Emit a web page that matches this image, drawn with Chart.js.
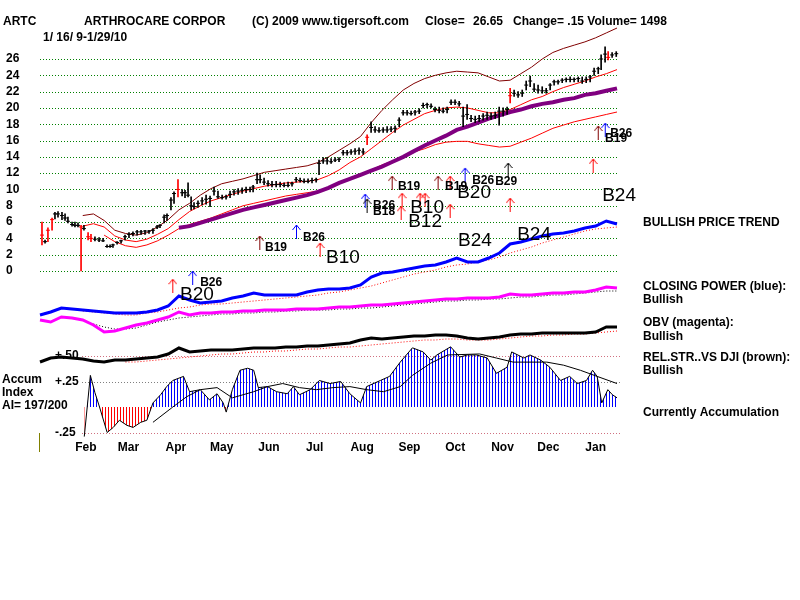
<!DOCTYPE html>
<html lang="en">
<head>
<meta charset="UTF-8">
<title>ARTC - TigerSoft</title>
<script src="https://cdn.jsdelivr.net/npm/chart.js@4"></script>
<style>
  html, body { margin: 0; padding: 0; background: #fff; }
  canvas { display: block; }
</style>
</head>
<body>
<canvas id="chart" width="800" height="600"></canvas>
<script>
/* ---------- data ---------- */
// price bars, x in days since 1/16/09
const barDays = [1.3,3.3,5.2,7.9,9.8,11.8,14.4,16.4,18.3,21,22.9,24.9,26.9,28.8,31.5,33.4,36,38.7,41.3,43.9,45.9,47.8,50.5,53.1,55.7,58.3,60.9,63.6,66.2,68.8,71.4,74,76.7,78.6,81.3,83.2,85.8,87.8,90.4,93.1,95,97,99,100.9,103.5,106.2,108.8,111.4,114,116.6,119.3,121.9,124.5,127.1,129.8,132.4,135,137.6,139.6,142.2,144.2,146.8,149.4,152,154.7,157.3,159.9,162.5,165.1,167.8,170.4,173,175.6,178.2,180.9,182.8,185.5,188.1,190.7,193.3,195.9,198.6,201.2,203.8,206.4,209,211.7,214.3,216.9,219.5,222.1,224.8,227.4,230,232.6,235.3,237.9,240.5,243.1,245.7,248.4,251,253.6,256.2,258.8,261.5,264.1,266.7,269.3,271.9,274.6,277.2,279.8,282.4,285.1,287.7,290.3,292.9,295.5,298.2,300.8,303.4,306,308,310.6,313.2,315.9,318.5,321.1,323.7,326.3,329,331.6,334.2,336.8,339.4,342.1,344.7,347.3,349.9,352.6,355.2,357.8,360.4,363,365.7,367.6,370.2,372.2,374.8,377.5];
const priceHigh = [6.0,3.8,5.3,6.5,7.2,7.3,7.2,7.0,6.6,6.0, 6.0,5.9,5.6,5.6,4.7,4.5,4.2,4.1,4.0,3.2, 3.2,3.3,3.6,3.8,4.4,4.7,4.8,5.0,5.0,5.0, 5.0,5.2,5.6,5.7,6.9,7.0,9.0,9.7,11.2,10.0, 9.9,10.8,9.1,8.4,8.6,9.0,9.3,9.2,10.3,9.8, 9.3,9.3,9.8,10.0,10.1,10.2,10.3,10.3,10.5,12.0, 11.8,11.4,11.1,11.0,11.0,10.9,10.8,10.9,10.9,11.5, 11.4,11.3,11.3,11.4,11.4,13.6,13.9,13.9,13.8,13.9, 13.9,14.8,14.8,14.9,15.0,15.1,15.0,16.7,18.3,17.7, 17.6,17.6,17.7,17.7,17.8,18.8,19.7,19.7,19.6,19.7, 19.9,20.6,20.6,20.5,20.1,20.1,20.0,20.1,21.0,21.0, 20.8,20.1,20.4,19.1,19.0,19.1,19.3,19.5,19.4,19.5, 20.1,20.0,20.1,22.4,22.2,22.0,22.2,23.3,23.9,23.0, 22.8,22.6,22.4,23.0,23.4,23.4,23.6,23.7,23.8,23.7, 23.8,23.8,23.8,24.0,24.9,25.0,26.5,27.5,26.9,26.8, 26.9];
const priceLow  = [3.2,3.4,3.6,5.0,6.4,6.6,6.3,6.2,5.9,5.5, 5.4,5.4,0.0,5.0,3.8,3.6,3.7,3.6,3.6,2.9, 2.9,2.9,3.3,3.4,3.8,4.1,4.3,4.4,4.5,4.5, 4.6,4.6,5.2,5.3,5.9,6.2,7.5,8.3,9.1,9.2, 9.0,9.1,7.5,7.6,7.8,8.1,8.2,7.9,9.3,8.9, 8.8,8.8,9.0,9.3,9.4,9.5,9.6,9.7,9.7,10.7, 10.8,10.6,10.4,10.3,10.3,10.3,10.3,10.3,10.4,10.9, 10.9,10.8,10.8,10.8,10.9,11.8,13.2,13.1,13.2,13.4, 13.4,14.2,14.2,14.3,14.3,14.3,14.3,15.5,17.0,17.0, 17.0,17.0,17.0,17.1,17.0,17.7,19.1,19.1,19.1,19.1, 19.3,20.0,20.0,20.0,19.5,19.4,19.4,19.4,20.4,20.4, 20.2,17.7,18.6,18.3,18.2,18.3,18.5,18.6,18.6,18.7, 17.9,19.0,19.2,20.6,21.4,21.3,21.4,22.2,22.6,22.0, 21.8,21.8,21.8,22.2,22.8,22.9,23.1,23.2,23.2,23.2, 23.2,23.0,23.1,23.2,24.0,24.2,24.7,25.6,25.9,26.2, 26.3];
const priceClose = [4.4,3.6,5.0,6.3,7.0,7.0,6.8,6.5,6.1,5.7, 5.6,5.6,5.4,5.2,4.2,4.0,3.9,3.8,3.7,3.0, 3.0,3.2,3.5,3.7,4.2,4.5,4.6,4.8,4.8,4.9, 4.9,5.0,5.4,5.6,6.6,6.8,8.7,9.5,10.0,9.6, 9.6,9.3,8.0,7.9,8.3,8.6,8.8,8.9,9.8,9.1, 9.0,9.1,9.4,9.7,9.8,9.9,10.0,10.0,10.3,11.2, 11.2,10.9,10.7,10.6,10.6,10.6,10.5,10.5,10.7,11.2, 11.1,11.0,11.0,11.1,11.2,13.2,13.5,13.5,13.4,13.6, 13.7,14.5,14.5,14.6,14.7,14.8,14.6,16.4,17.6,17.3, 17.2,17.3,17.3,17.4,17.5,18.5,19.4,19.4,19.3,19.5, 19.6,20.3,20.4,20.2,19.8,19.7,19.6,19.8,20.7,20.7, 20.5,19.0,19.2,18.7,18.6,18.7,19.0,19.1,19.0,19.1, 19.6,19.6,19.8,21.5,21.8,21.6,21.8,22.8,23.3,22.3, 22.2,22.1,22.1,22.8,23.2,23.2,23.4,23.5,23.5,23.5, 23.6,23.3,23.5,23.8,24.5,24.8,26.0,26.6,26.2,26.5, 26.65];
const redBarDays = [1.3,5.2,7.9,26.9,31.5,33.4,90.4,214.3,308,372.2];

// weekly indicator samples
const weekDays = [0,7,14,21,28,35,42,49,56,63,70,77,84,91,98,105,112,119,126,133,140,147,154,161,168,175,182,189,196,203,210,217,224,231,238,245,252,259,266,273,280,287,294,301,308,315,322,329,336,343,350,357,364,371,378];
const upperBand = [null,null,null,null,6.8,7.0,6.2,5.0,4.6,4.4,4.7,5.4,6.3,7.5,8.3,9.3,10.1,10.7,11.0,11.3,11.7,12.1,12.3,12.5,12.7,12.9,13.3,14.0,14.8,15.6,16.5,18.2,19.7,21.0,22.2,23.0,23.6,24.0,24.3,24.5,24.4,24.3,23.8,23.3,23.4,24.2,25.0,26.0,26.8,27.3,27.7,28.1,28.6,29.2,29.8];
const midBand   = [null,null,null,null,5.5,5.8,5.4,4.3,3.8,3.6,3.9,4.5,5.2,6.3,7.3,8.0,8.6,9.0,9.4,9.8,10.1,10.4,10.6,10.8,10.9,11.0,11.2,11.7,12.4,13.3,14.0,15.0,16.0,17.0,17.9,18.6,19.3,19.7,20.0,20.1,20.0,19.7,19.4,19.4,19.8,20.4,21.0,21.4,22.0,22.5,22.9,23.3,23.8,24.2,24.7];
const lowerBand = [null,null,null,null,null,null,4.4,3.6,3.1,2.9,3.2,3.7,4.4,5.2,5.7,6.1,6.5,7.0,7.5,8.0,8.3,8.6,8.9,9.2,9.4,9.6,9.8,10.2,10.8,11.4,11.9,12.4,13.0,13.5,14.1,14.6,15.0,15.5,15.8,15.9,15.9,15.6,15.4,15.2,15.3,15.8,16.3,16.9,17.5,17.9,18.3,18.6,18.9,19.2,19.5];
const longMA    = [null,null,null,null,null,null,null,null,null,null,null,null,null,5.3,5.5,5.9,6.3,6.7,7.1,7.5,7.8,8.1,8.4,8.7,9.0,9.3,9.7,10.2,10.8,11.3,11.8,12.3,12.8,13.4,14.0,14.7,15.4,16.0,16.6,17.3,17.7,18.2,18.7,19.1,19.5,19.8,20.2,20.5,20.7,21.0,21.2,21.6,21.8,22.1,22.4];

const closingPower   = [5,8,12,11,10,9,8,7,7,7,8,10,14,24,20,17,18,19,22,24,27,25,25,25,25,28,30,31,31,32,35,43,47,48,50,52,54,55,58,62,58,58,62,67,76,78,81,84,86,87,89,92,94,99,96];
const closingPowerMA = [null,null,null,null,9,8,7,6,5,5,7,8,10,12,13,15,16,16,17,18,19,20,21,22,23,24,25,27,28,30,32,34,37,40,43,46,48,50,53,55,56,58,60,63,67,70,73,77,80,83,86,89,91,92,93];
const obv            = [20,18,23,22,20,15,8,9,12,15,17,20,23,28,25,27,27,28,28,29,29,30,30,30,31,31,31,32,33,33,34,35,35,36,37,38,39,40,41,41,42,42,42,43,46,45,45,46,47,47,48,48,50,53,52];
const obvMA          = [null,null,null,null,null,16,13,11,11,12,15,18,20,22,23,24,25,26,26,27,27,28,28,29,29,30,30,30,31,31,32,32,33,34,35,36,37,38,39,39,40,40,41,41,42,43,43,44,45,45,46,47,48,49,49];
const relStr         = [8,12,13,12,11,9,8,10,10,11,12,13,16,22,18,19,20,20,20,21,22,22,22,23,23,24,24,25,26,27,30,32,31,32,33,34,34,35,35,34,32,31,32,33,35,36,36,37,37,37,37,37,38,43,43];
const relStrMA       = [null,null,null,null,null,null,null,null,8,8,9,10,11,12,13,14,15,16,16,17,18,18,19,19,20,21,21,22,23,23,24,25,26,27,28,29,30,30,31,31,30,30,30,31,32,33,34,34,35,35,36,36,37,38,39];

const accumDays = [29,33,36,39,44,48,52,57,61,66,70,74,79,83,87,94,98,105,111,116,120,122,126,131,136,140,143,149,155,162,166,170,177,183,190,197,203,210,214,223,229,236,244,251,256,260,269,275,280,286,293,299,306,309,317,321,328,334,341,347,352,358,362,365,368,372,375,378];
const accumVals = [-0.29,0.31,0.14,0.0,-0.25,-0.2,-0.13,-0.18,-0.2,-0.15,-0.13,0.04,0.12,0.2,0.26,0.3,0.15,0.17,0.07,0.13,0.04,-0.05,0.17,0.36,0.38,0.36,0.19,0.2,0.15,0.13,0.2,0.12,0.17,0.26,0.23,0.25,0.13,0.04,0.2,0.26,0.3,0.44,0.58,0.54,0.46,0.51,0.59,0.49,0.51,0.51,0.48,0.33,0.39,0.54,0.48,0.51,0.46,0.39,0.26,0.3,0.23,0.26,0.36,0.3,0.04,0.17,0.12,0.09];
const accumMADays = [74,87,96,105,116,126,140,149,159,170,181,192,203,214,225,236,244,256,267,288,299,310,332,343,354,365,378];
const accumMAVals = [-0.15,0.0,0.1,0.17,0.19,0.09,0.15,0.2,0.23,0.19,0.17,0.19,0.2,0.17,0.15,0.2,0.31,0.43,0.51,0.52,0.48,0.44,0.44,0.41,0.36,0.3,0.23];

// buy signals: arrow mid-point in price units
const arrowDays   = [87,100,144,168,183.5,213,214.3,230.7,237.2,236.6,249,252.3,260.8,268.7,268.7,278.5,306.7,308,362.4,365.7,370.3];
const arrowPrices = [-1.8,-0.8,3.5,4.85,2.65,8.65,8.05,10.85,8.75,7.15,8.75,8.75,10.85,10.85,7.4,11.85,12.45,8.15,12.95,17.0,17.35];
const arrowColors = ['red','blue','darkred','blue','red','blue','black','darkred','red','red','red','red','darkred','red','red','blue','black','red','red','darkred','blue'];

const signalText   = ['B19','B26','B10','B26','B20','B26','B18','B19','B10','B12','B19','B26','B20','B29','B24','B24','B24','B26','B19'];
const signalDays   = [147.4,172.3,187.4,104.9,91.7,218.2,218.2,234.6,242.5,241.2,265.4,283.1,273.3,298.2,273.9,312.6,368.3,373.5,370.2];
const signalPrices = [2.8,4.05,1.6,-1.45,-2.95,7.95,7.25,10.4,7.75,6.0,10.3,11.05,9.6,10.9,3.7,4.4,9.2,16.8,16.2];
const signalBig    = [false,false,true,false,true,false,false,false,true,true,false,false,true,false,true,true,true,false,false];

const priceTicks  = [26,24,22,20,18,16,14,12,10,8,6,4,2,0];
const monthLabels = ['Feb','Mar','Apr','May','Jun','Jul','Aug','Sep','Oct','Nov','Dec','Jan'];
const monthDays   = [30,58,89,119,150,180,211,242,272,303,333,364];
const accumTicks  = [0.5,0.25,-0.25];
const accumTickText = ['+.50','+.25','-.25'];

/* ---------- layout ---------- */
const W = 800, H = 600;
const FONT = '"Liberation Sans", Arial, sans-serif';

// value range for an axis so that v1 lands at pixel p1 and v2 at p2 (lo/hi = pixel at min/max)
function fit (v1, p1, v2, p2, lo, hi) {
  const k = (p2 - p1) / (v2 - v1);
  return { min: v1 + (lo - p1) / k, max: v1 + (hi - p1) / k };
}
const xR   = fit(0, 40, 378, 617, 0, W);
const pR   = fit(0, 271, 26, 59, H, 0);
const cpR  = fit(0, 320, 100, 220, H, 0);
const obR  = fit(0, 340, 50, 290, H, 0);
const rsR  = fit(0, 370, 40, 330, H, 0);
const aiR  = fit(0, 407, 0.25, 381.5, H, 0);

const pts = (days, vals) => days.map((d, i) => ({ x: d, y: vals[i] })).filter(p => p.y !== null);

/* ---------- sprites / patterns ---------- */
const COLORS = { red: '#ff0000', darkred: '#800000', blue: '#0000ff', black: '#000000' };
function arrowSprite (color) {
  const c = document.createElement('canvas');
  c.width = 9; c.height = 15;
  const g = c.getContext('2d');
  g.strokeStyle = color; g.lineWidth = 1;
  g.beginPath();
  g.moveTo(4.5, 1); g.lineTo(4.5, 15);
  g.moveTo(4.5, 1); g.lineTo(0.5, 6);
  g.moveTo(4.5, 1); g.lineTo(8.5, 6);
  g.stroke();
  return c;
}
const arrowImg = {};
Object.keys(COLORS).forEach(k => arrowImg[k] = arrowSprite(COLORS[k]));

function stripes (color) {
  const c = document.createElement('canvas');
  c.width = 3; c.height = 1;
  const g = c.getContext('2d');
  g.fillStyle = color; g.fillRect(0, 0, 1, 1);
  return g.createPattern(c, 'repeat');
}

/* ---------- texts, grid ---------- */
const deco = {
  id: 'deco',
  beforeDatasetsDraw (chart) {
    const { ctx, scales } = chart;
    const x0 = scales.x.getPixelForValue(weekDays[0]);
    const x1 = scales.x.getPixelForValue(weekDays[weekDays.length - 1]);
    ctx.save();
    ctx.lineWidth = 1;
    ctx.setLineDash([1, 2]);
    ctx.strokeStyle = '#008000';
    priceTicks.forEach(v => {
      const y = Math.round(scales.yP.getPixelForValue(v)) + 0.5;
      ctx.beginPath(); ctx.moveTo(x0, y); ctx.lineTo(x1, y); ctx.stroke();
    });
    accumTicks.forEach(v => {
      const y = Math.round(scales.yA.getPixelForValue(v)) + 0.5;
      ctx.strokeStyle = v === 0.25 ? '#808080' : '#d07080';
      ctx.beginPath(); ctx.moveTo(82, y); ctx.lineTo(x1 + 3, y); ctx.stroke();
    });
    // small olive marker under the accum panel
    ctx.setLineDash([]);
    ctx.strokeStyle = '#808000';
    ctx.beginPath(); ctx.moveTo(x0 - 0.5, 433); ctx.lineTo(x0 - 0.5, 452); ctx.stroke();
    ctx.restore();
  },
  afterDatasetsDraw (chart) {
    const { ctx, scales } = chart;
    ctx.save();
    ctx.fillStyle = '#000';
    ctx.textBaseline = 'middle';
    ctx.font = 'bold 12px ' + FONT;

    // header
    ctx.fillText('ARTC', 3, 22);
    ctx.fillText('ARTHROCARE CORPOR', 84, 22);
    ctx.fillText('(C) 2009 www.tigersoft.com', 252, 22);
    ctx.fillText('Close=', 425, 22);
    ctx.fillText('26.65', 473, 22);
    ctx.fillText('Change= .15 Volume= 1498', 513, 22);
    ctx.fillText('1/ 16/ 9-1/29/10', 43, 38);

    // price ticks
    priceTicks.forEach(v => ctx.fillText(String(v), 6, scales.yP.getPixelForValue(v)));

    // months
    ctx.textAlign = 'center';
    monthLabels.forEach((m, i) => ctx.fillText(m, scales.x.getPixelForValue(monthDays[i]), 448));
    ctx.textAlign = 'left';

    // accum index labels
    accumTickText.forEach((t, i) => ctx.fillText(t, 55, scales.yA.getPixelForValue(accumTicks[i])));
    ctx.fillText('Accum', 2, 380);
    ctx.fillText('Index', 2, 393);
    ctx.fillText('AI= 197/200', 2, 406);

    // right side
    ctx.fillText('BULLISH PRICE TREND', 643, 223);
    ctx.fillText('CLOSING POWER (blue):', 643, 287);
    ctx.fillText('Bullish', 643, 300);
    ctx.fillText('OBV (magenta):', 643, 323);
    ctx.fillText('Bullish', 643, 337);
    ctx.fillText('REL.STR..VS DJI (brown):', 643, 358);
    ctx.fillText('Bullish', 643, 371);
    ctx.fillText('Currently Accumulation', 643, 413);

    // signal labels
    signalText.forEach((t, i) => {
      ctx.font = signalBig[i] ? '19px ' + FONT : 'bold 12px ' + FONT;
      ctx.fillText(t, scales.x.getPixelForValue(signalDays[i]), scales.yP.getPixelForValue(signalPrices[i]));
    });
    ctx.restore();
  }
};

/* ---------- chart ---------- */
const barColor = d => redBarDays.includes(d) ? '#ff0000' : '#000000';
const line = (label, data, yAxisID, color, width, extra) => Object.assign({
  type: 'line', label, data, yAxisID, xAxisID: 'x',
  borderColor: color, borderWidth: width, pointRadius: 0, tension: 0, fill: false
}, extra || {});
const dotted = { borderDash: [1, 2] };
const hidden = r => ({ type: 'linear', display: false, offset: false, min: r.min, max: r.max });

new Chart(document.getElementById('chart'), {
  type: 'line',
  data: {
    datasets: [
      {
        type: 'line', label: 'signals', order: 0, yAxisID: 'yP', xAxisID: 'x',
        data: pts(arrowDays, arrowPrices),
        pointStyle: arrowColors.map(c => arrowImg[c]),
        pointRadius: 7, showLine: false
      },
      {
        type: 'bar', label: 'range', order: 1, yAxisID: 'yP', xAxisID: 'x',
        data: barDays.map((d, i) => ({ x: d, y: [priceLow[i], priceHigh[i]] })),
        backgroundColor: barDays.map(barColor),
        barThickness: 1, grouped: false
      },
      line('close', pts(barDays, priceClose), 'yP', '#000', 1, {
        order: 1, showLine: false, pointStyle: 'line', pointRadius: 2, pointBorderWidth: 1,
        pointBorderColor: barDays.map(barColor)
      }),
      line('upper', pts(weekDays, upperBand), 'yP', '#800000', 1, { order: 3 }),
      line('mid', pts(weekDays, midBand), 'yP', '#ff0000', 1, { order: 3 }),
      line('lower', pts(weekDays, lowerBand), 'yP', '#ff0000', 1, { order: 3 }),
      line('ma', pts(weekDays, longMA), 'yP', '#800080', 4, { order: 2 }),

      line('cp', pts(weekDays, closingPower), 'yC', '#0000ff', 3, { order: 4 }),
      line('cpma', pts(weekDays, closingPowerMA), 'yC', '#ff0000', 1, Object.assign({ order: 5 }, dotted)),
      line('obv', pts(weekDays, obv), 'yO', '#ff00ff', 3, { order: 4 }),
      line('obvma', pts(weekDays, obvMA), 'yO', '#000000', 1, Object.assign({ order: 5 }, dotted)),
      line('rs', pts(weekDays, relStr), 'yR', '#000000', 3, { order: 4 }),
      line('rsma', pts(weekDays, relStrMA), 'yR', '#ff0000', 1, Object.assign({ order: 5 }, dotted)),

      line('accum', pts(accumDays, accumVals), 'yA', '#000000', 1, {
        order: 6,
        fill: { target: 'origin', above: stripes('#0000ff'), below: stripes('#ff0000') }
      }),
      line('accumma', pts(accumMADays, accumMAVals), 'yA', '#000000', 1, { order: 5 })
    ]
  },
  options: {
    responsive: false,
    animation: false,
    devicePixelRatio: 1,
    layout: { padding: 0, autoPadding: false },
    plugins: { legend: { display: false }, tooltip: { enabled: false } },
    scales: {
      x:  hidden(xR),
      yP: hidden(pR),
      yC: hidden(cpR),
      yO: hidden(obR),
      yR: hidden(rsR),
      yA: hidden(aiR)
    }
  },
  plugins: [deco]
});
</script>
</body>
</html>
